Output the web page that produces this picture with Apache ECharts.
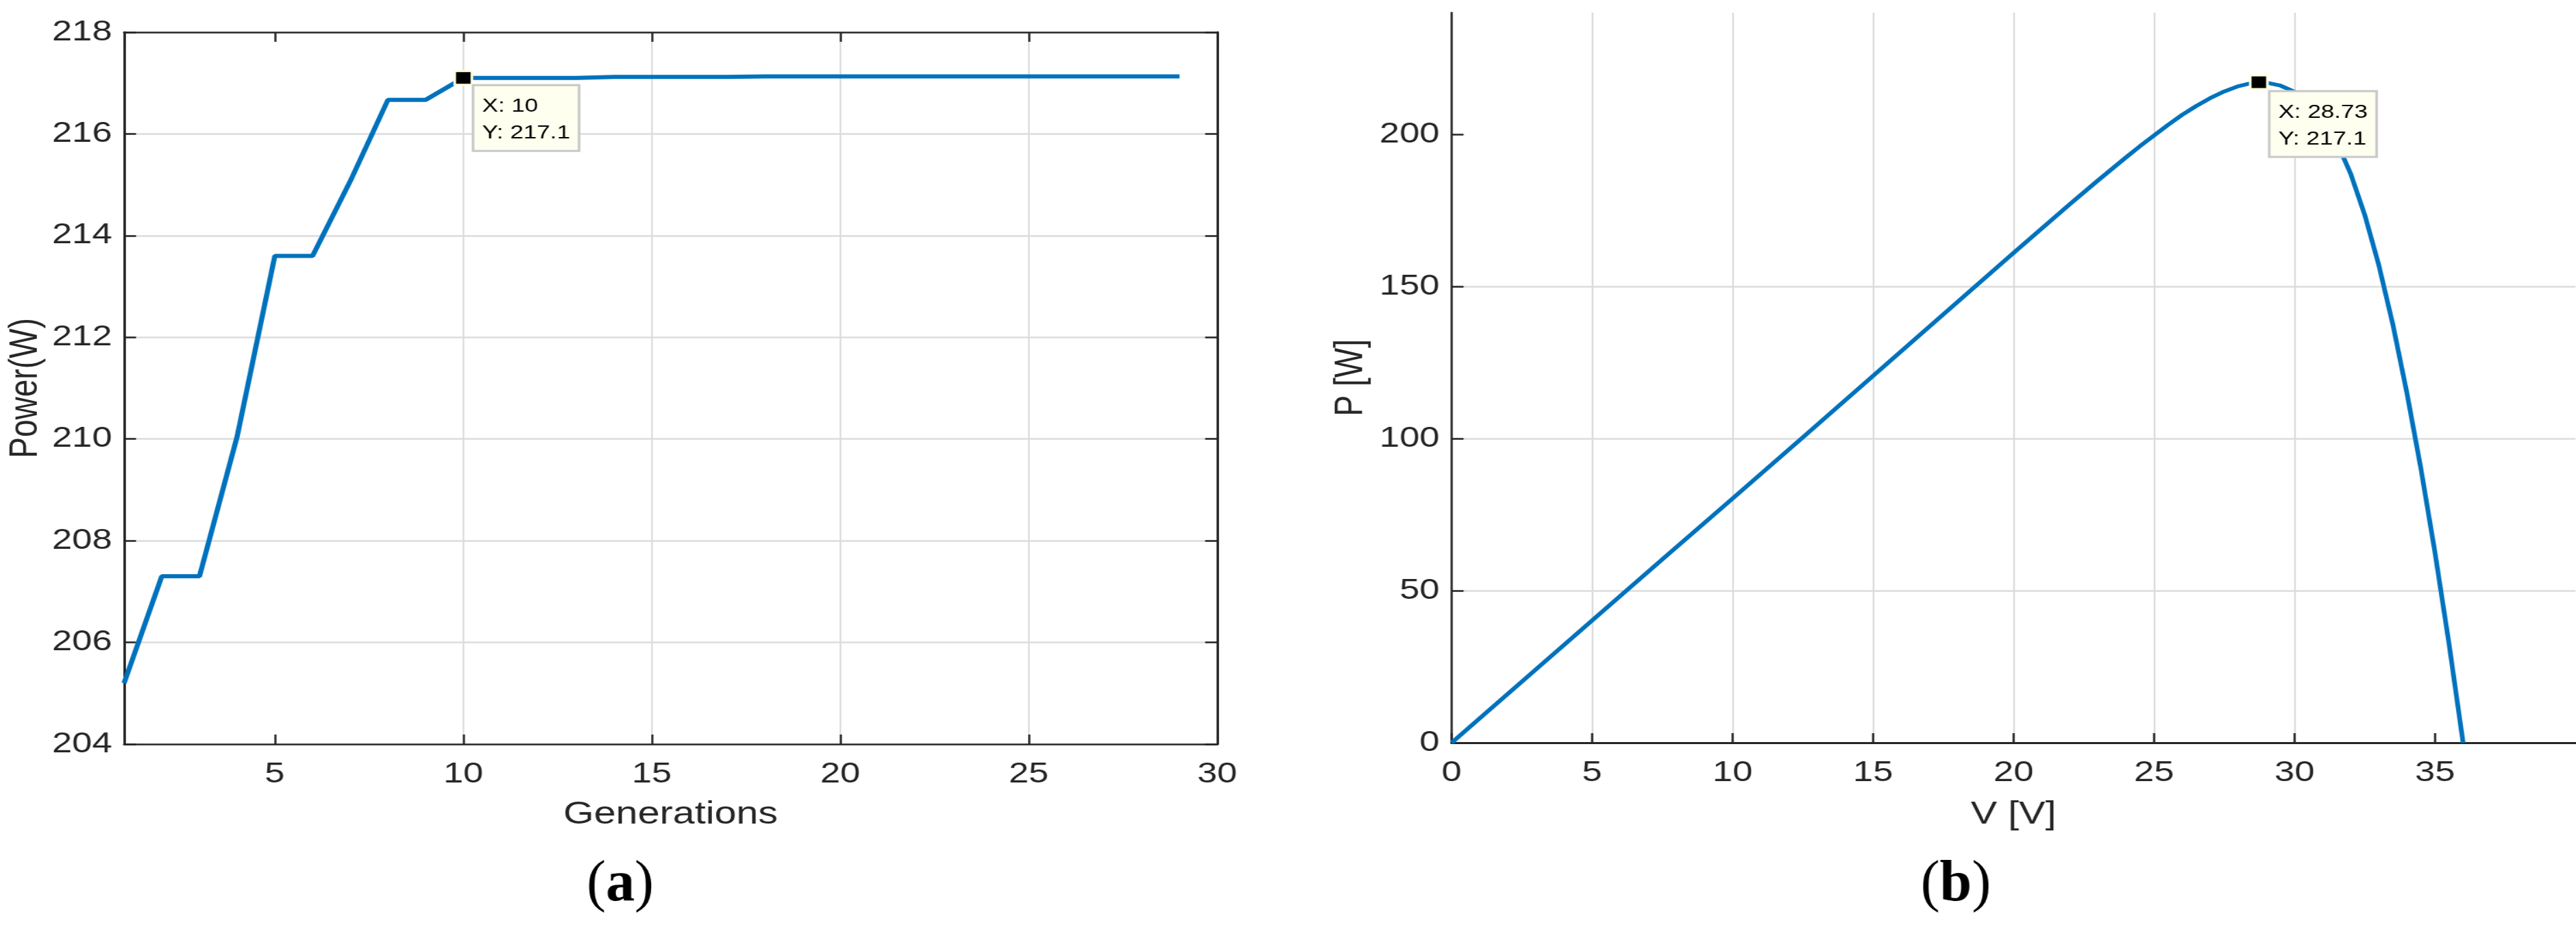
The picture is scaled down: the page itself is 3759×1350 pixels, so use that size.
<!DOCTYPE html>
<html>
<head>
<meta charset="utf-8">
<title>Power per generation and P-V curve</title>
<script src="https://cdn.jsdelivr.net/npm/echarts@6/dist/echarts.min.js"></script>
<style>
  html, body { margin: 0; padding: 0; background: #fff; overflow: hidden; }
  /* the source figure is stretched sideways ~1.25x, so draw narrower and widen it */
  #chart { width: 3007px; height: 1350px; transform: scaleX(1.25008); transform-origin: 0 0; }
</style>
</head>
<body>
<div id="chart"></div>
<script>
// (a) best power found per generation
var generations = [1, 2, 3, 4, 5, 6, 7, 8, 9, 10, 11, 12, 13, 14, 15, 16, 17, 18, 19, 20,
  21, 22, 23, 24, 25, 26, 27, 28, 29];
var bestPower = [205.2, 207.3, 207.3, 210.05, 213.6, 213.6, 215.07, 216.67, 216.67, 217.1,
  217.1, 217.1, 217.1, 217.12, 217.12, 217.12, 217.12, 217.13, 217.13, 217.13,
  217.13, 217.13, 217.13, 217.13, 217.13, 217.13, 217.13, 217.13, 217.13];

// (b) P-V curve of the panel
var voltage = [0, 2.5, 5, 7.5, 10, 12.5, 15, 17.5, 20, 22, 23, 24, 24.5, 25, 25.5, 26, 26.5,
  27, 27.5, 28, 28.4, 28.73, 29, 29.5, 30, 30.5, 31, 31.5, 32, 32.5, 33, 33.5, 34, 34.5, 35,
  35.5, 36];
var pvPower = [0, 20.1, 40.2, 60.3, 80.3, 100.4, 120.6, 140.8, 161, 177, 184.8, 192.4, 196.1,
  199.6, 203.1, 206.4, 209.3, 211.9, 214.1, 215.8, 216.7, 217.1, 217, 216, 214, 210.5, 205,
  197.5, 187, 173.5, 157, 137.5, 115, 90, 62.5, 32.5, 0];

// data tips
var tipA = [10, 217.1];
var tipB = [28.73, 217.1];

// tick labels
var genTicks = [5, 10, 15, 20, 25, 30];
var powerTicks = [204, 206, 208, 210, 212, 214, 216, 218];
var voltTicks = [0, 5, 10, 15, 20, 25, 30, 35];
var pvTicks = [0, 50, 100, 150, 200];

var FONT = "'Liberation Sans', Arial, Helvetica, sans-serif";
var SERIF = "'Liberation Serif', 'Times New Roman', serif";
var INK = '#262626';
var GRID = '#dcdcdc';

var chart = echarts.init(document.getElementById('chart'));

function pairs(xs, ys) {
  return xs.map(function (x, i) { return [x, ys[i]]; });
}

function only(list) {
  return function (v) { return list.indexOf(v) >= 0 ? String(v) : ''; };
}

function tipLabel(p, pos) {
  return {
    show: true,
    position: pos,
    align: 'left',
    verticalAlign: 'top',
    formatter: 'X: ' + p[0] + '\nY: ' + p[1],
    fontFamily: FONT,
    fontSize: 28,
    lineHeight: 39,
    color: '#000',
    backgroundColor: '#fffff0',
    borderColor: '#c8c8c8',
    borderWidth: 3,
    padding: [10, 9, 5, 9]
  };
}

function mainAxis(pos, lineW, gridW, ticks, extra) {
  var a = {
    type: 'value',
    position: pos,
    axisLine: { show: true, onZero: false, lineStyle: { color: INK, width: lineW } },
    axisTick: { show: true, inside: true, length: 14, lineStyle: { color: INK, width: 2.5 }, customValues: ticks },
    axisLabel: {
      show: true, color: INK, fontFamily: FONT, fontSize: 42,
      margin: (pos === 'bottom') ? 23 : 14, customValues: ticks, formatter: only(ticks)
    },
    splitLine: { show: true, showMinLine: false, showMaxLine: false, lineStyle: { color: GRID, width: gridW } },
    nameLocation: 'middle',
    nameTextStyle: { color: INK, fontFamily: FONT, fontSize: 46 }
  };
  return Object.assign(a, extra);
}

function boxAxis(pos, lineW, extra) {
  return Object.assign({
    type: 'value',
    position: pos,
    axisLine: { show: true, onZero: false, lineStyle: { color: INK, width: lineW } },
    axisTick: { show: true, inside: true, length: 14, lineStyle: { color: INK, width: 2.5 } },
    axisLabel: { show: false },
    splitLine: { show: false }
  }, extra);
}

function caption(letter, x) {
  return {
    type: 'text', x: x, y: 1292, scaleX: 0.8,
    style: {
      text: '{p|(}{b|' + letter + '}{p|)}', align: 'center', verticalAlign: 'middle',
      textAlign: 'center', textVerticalAlign: 'middle',
      rich: {
        p: { fontFamily: SERIF, fontSize: 84, fill: '#000', color: '#000' },
        b: { fontFamily: SERIF, fontSize: 84, fontWeight: 'bold', fill: '#000', color: '#000' }
      }
    }
  };
}

chart.setOption({
  animation: false,
  backgroundColor: '#fff',
  textStyle: { fontFamily: FONT },
  grid: [
    { left: 144.8, right: 1586.2, top: 47, height: 1039 },
    { left: 1694.4, right: 0.6, top: 18.4, height: 1065.7 }
  ],
  xAxis: [
    mainAxis('bottom', 2.5, 2, genTicks, { gridIndex: 0, min: 1, max: 30, name: 'Generations', nameGap: 80 }),
    boxAxis('top', 2.5, { gridIndex: 0, min: 1, max: 30 }),
    mainAxis('bottom', 3, 2, voltTicks, { gridIndex: 1, min: 0, max: 40, interval: 5, name: 'V [V]', nameGap: 82 })
  ],
  yAxis: [
    mainAxis('left', 3, 2.5, powerTicks, { gridIndex: 0, min: 204, max: 218, interval: 2, name: 'Power(W)', nameGap: 91 }),
    boxAxis('right', 3, { gridIndex: 0, min: 204, max: 218, interval: 2 }),
    mainAxis('left', 2.5, 2.5, pvTicks, { gridIndex: 1, min: 0, max: 240, interval: 50, name: 'P [W]', nameGap: 94 })
  ],
  series: [
    {
      type: 'line',
      xAxisIndex: 0,
      yAxisIndex: 0,
      data: pairs(generations, bestPower),
      showSymbol: false,
      symbol: 'none',
      lineStyle: { color: '#0072bd', width: 6 },
      markPoint: {
        silent: true,
        symbol: 'rect',
        symbolSize: 20,
        itemStyle: { color: '#000', borderColor: '#ffffe0', borderWidth: 3 },
        label: tipLabel(tipA, [24.4, 23.4]),
        data: [{ coord: tipA }]
      }
    },
    {
      type: 'line',
      xAxisIndex: 2,
      yAxisIndex: 2,
      data: pairs(voltage, pvPower),
      showSymbol: false,
      symbol: 'none',
      lineStyle: { color: '#0072bd', width: 5.5, join: 'round' },
      markPoint: {
        silent: true,
        symbol: 'rect',
        symbolSize: 20,
        itemStyle: { color: '#000', borderColor: '#ffffe0', borderWidth: 3 },
        label: tipLabel(tipB, [25.2, 26]),
        data: [{ coord: tipB }]
      }
    }
  ],
  graphic: [caption('a', 724), caption('b', 2283)]
});
</script>
</body>
</html>
